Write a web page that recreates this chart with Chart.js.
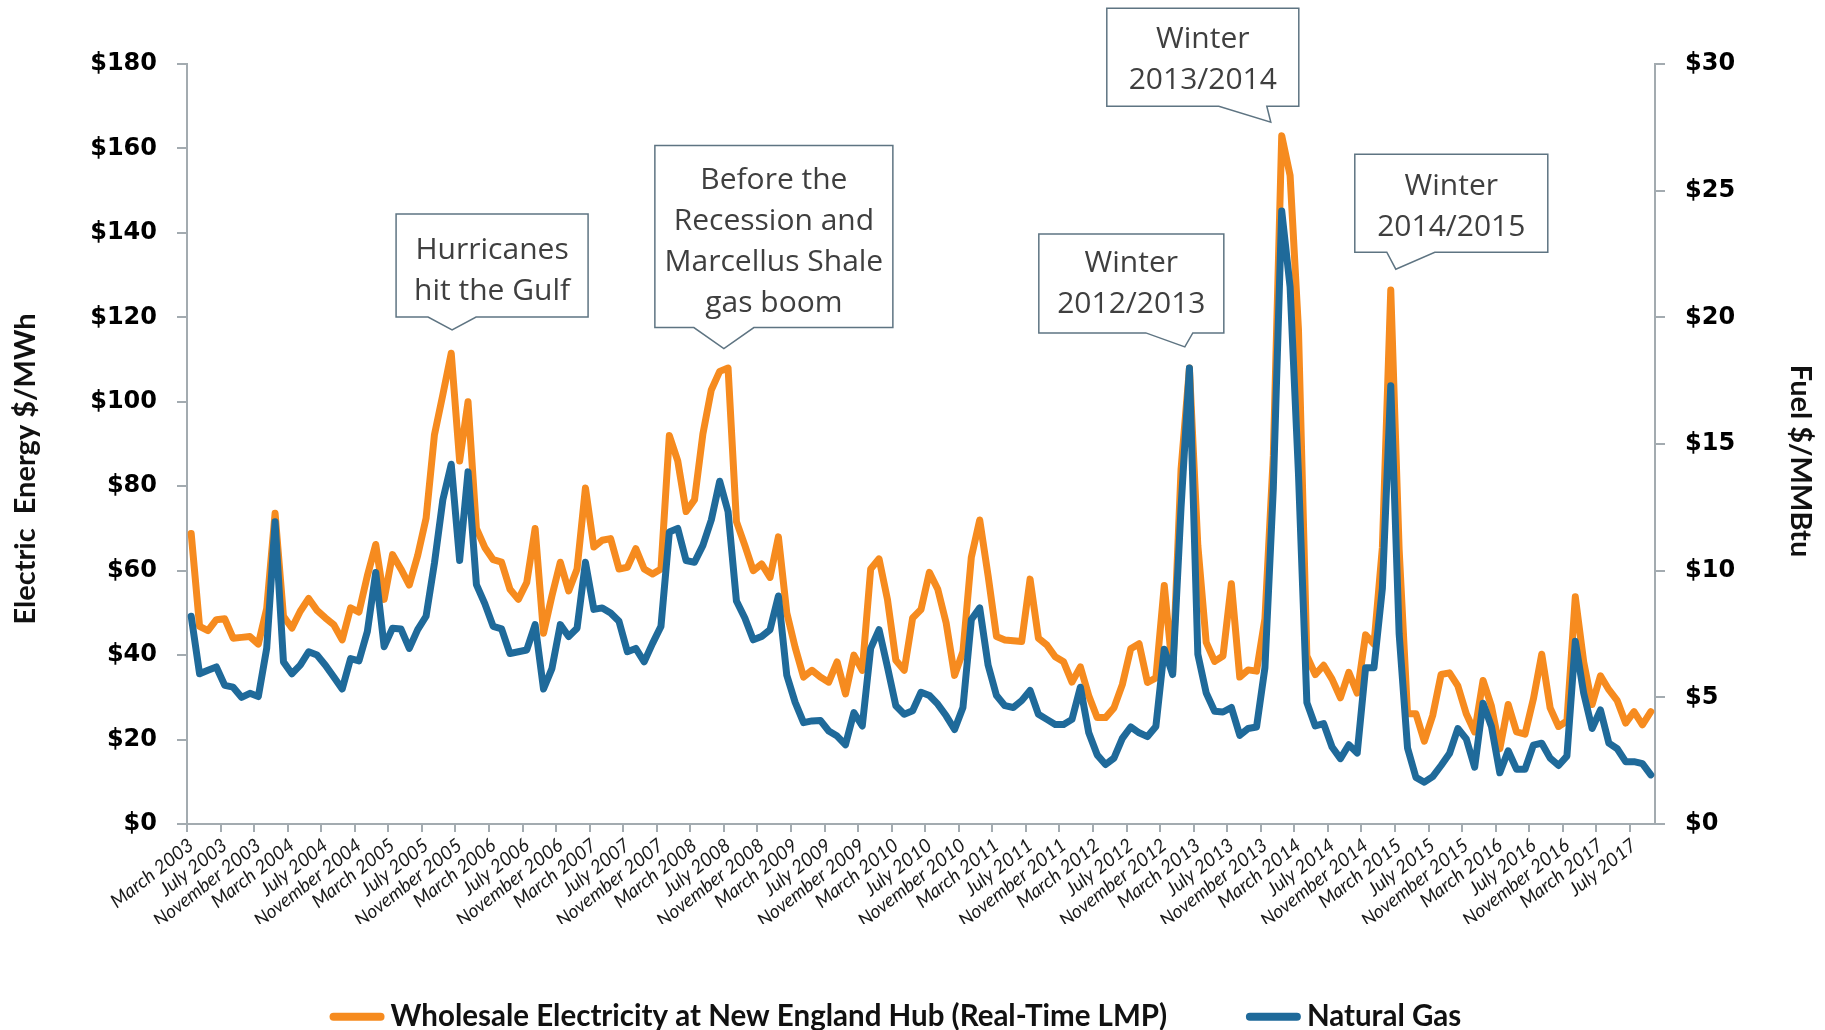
<!DOCTYPE html>
<html>
<head>
<meta charset="utf-8">
<title>New England wholesale electricity and natural gas prices</title>
<script src="https://cdn.jsdelivr.net/npm/chart.js@4.4.1/dist/chart.umd.min.js"></script>
<style>
  html, body { margin: 0; padding: 0; background: #ffffff; }
  #wrap { width: 1825px; height: 1030px; }
</style>
</head>
<body>
<div id="wrap"><canvas id="chart" width="1825" height="1030"></canvas></div>
<script>
// ---- categories: one per month, March 2003 .. September 2017 ----
const MONTH_NAMES = ['January', 'February', 'March', 'April', 'May', 'June', 'July',
  'August', 'September', 'October', 'November', 'December'];
const FIRST_YEAR = 2003;
const FIRST_MONTH = 2;      // March
const MONTH_COUNT = 175;
const months = [];
for (let k = 0; k < MONTH_COUNT; k++) {
  const m = FIRST_MONTH + k;
  months.push(MONTH_NAMES[m % 12] + ' ' + (FIRST_YEAR + Math.floor(m / 12)));
}
const LABEL_EVERY = 4;      // a tick label every fourth month

// ---- wholesale electricity, New England Hub real-time LMP ($/MWh) ----
const elecPrice = [
  /* 2003 */ 68.8, 46.8, 45.8, 48.4, 48.6, 44.0, 44.2, 44.4, 42.6, 51.0,
  /* 2004 */ 73.6, 49.2, 46.4, 50.4, 53.4, 50.6, 48.8, 47.2, 43.6, 51.2, 50.2, 58.8,
  /* 2005 */ 66.2, 53.2, 63.8, 60.4, 56.6, 63.6, 72.4, 92.2, 101.7, 111.5, 86.0, 100.0,
  /* 2006 */ 70.0, 65.5, 62.6, 62.0, 55.6, 53.2, 57.2, 70.0, 45.2, 54.0, 62.0, 55.2,
  /* 2007 */ 60.4, 79.6, 65.6, 67.2, 67.6, 60.4, 60.8, 65.2, 60.4, 59.2, 60.4, 92.0,
  /* 2008 */ 86.0, 74.0, 76.8, 92.4, 102.8, 107.2, 108.0, 71.6, 66.0, 60.0, 61.6, 58.4,
  /* 2009 */ 68.0, 50.0, 41.8, 34.8, 36.4, 34.8, 33.6, 38.4, 30.8, 40.0, 36.4, 60.4,
  /* 2010 */ 62.8, 53.2, 38.8, 36.4, 48.8, 50.8, 59.6, 55.6, 47.6, 35.2, 40.8, 63.2,
  /* 2011 */ 72.0, 58.8, 44.4, 43.6, 43.4, 43.2, 58.0, 44.0, 42.4, 39.6, 38.4, 33.6,
  /* 2012 */ 37.2, 30.4, 25.2, 25.2, 27.5, 33.0, 41.5, 42.7, 33.5, 34.6, 56.5, 36.0,
  /* 2013 */ 84.0, 108.0, 66.0, 43.0, 38.5, 39.8, 56.9, 34.8, 36.5, 36.2, 48.6, 87.3,
  /* 2014 */ 163.0, 153.6, 117.0, 39.8, 35.4, 37.6, 34.3, 29.9, 35.9, 31.0, 44.8, 42.6,
  /* 2015 */ 65.5, 126.5, 65.0, 26.1, 26.1, 19.6, 25.7, 35.4, 35.8, 32.7, 26.1, 21.8,
  /* 2016 */ 34.0, 27.9, 17.8, 28.3, 21.8, 21.3, 29.6, 40.2, 27.5, 23.1, 24.4, 53.8,
  /* 2017 */ 38.4, 28.3, 35.1, 31.8, 29.2, 23.9, 26.6, 23.5, 26.6
];

// ---- natural gas ($/MMBtu) ----
const gasPrice = [
  /* 2003 */ 8.2, 5.93, 6.07, 6.2, 5.47, 5.4, 5.0, 5.16, 5.03, 6.93,
  /* 2004 */ 11.93, 6.4, 5.93, 6.27, 6.8, 6.67, 6.27, 5.8, 5.33, 6.53, 6.44, 7.6,
  /* 2005 */ 9.93, 7.0, 7.73, 7.7, 6.93, 7.67, 8.2, 10.3, 12.8, 14.2, 10.4, 13.9,
  /* 2006 */ 9.45, 8.7, 7.8, 7.7, 6.73, 6.8, 6.87, 7.87, 5.33, 6.13, 7.87, 7.4,
  /* 2007 */ 7.73, 10.33, 8.47, 8.53, 8.33, 8.0, 6.8, 6.93, 6.4, 7.13, 7.8, 11.53,
  /* 2008 */ 11.67, 10.4, 10.33, 11.0, 12.0, 13.53, 12.33, 8.8, 8.13, 7.27, 7.4, 7.67,
  /* 2009 */ 9.0, 5.87, 4.8, 4.0, 4.07, 4.09, 3.67, 3.47, 3.13, 4.4, 3.87, 6.93,
  /* 2010 */ 7.67, 6.2, 4.67, 4.33, 4.47, 5.2, 5.07, 4.73, 4.27, 3.73, 4.6, 8.07,
  /* 2011 */ 8.53, 6.27, 5.07, 4.67, 4.6, 4.87, 5.27, 4.33, 4.13, 3.93, 3.93, 4.13,
  /* 2012 */ 5.4, 3.6, 2.73, 2.35, 2.6, 3.38, 3.83, 3.6, 3.45, 3.85, 6.9, 5.9,
  /* 2013 */ 12.5, 18.0, 6.7, 5.17, 4.45, 4.42, 4.6, 3.5, 3.77, 3.83, 6.17, 13.26,
  /* 2014 */ 24.2, 21.2, 13.8, 4.79, 3.87, 3.96, 3.04, 2.58, 3.13, 2.8, 6.17, 6.17,
  /* 2015 */ 9.3, 17.3, 7.5, 3.0, 1.84, 1.65, 1.87, 2.31, 2.78, 3.77, 3.36, 2.24,
  /* 2016 */ 4.77, 3.85, 2.02, 2.89, 2.16, 2.16, 3.11, 3.19, 2.6, 2.31, 2.68, 7.21,
  /* 2017 */ 5.16, 3.77, 4.5, 3.19, 2.97, 2.46, 2.46, 2.38, 1.94
];

// ---- axis ranges and tick steps ----
const elecAxis = { min: 0, max: 180, step: 20 };
const gasAxis = { min: 0, max: 30, step: 5 };

// ---- callout notes: text lines, pointer tip (month position, $/MWh) ----
const calloutText = [
  ['Hurricanes', 'hit the Gulf'],
  ['Before the', 'Recession and', 'Marcellus Shale', 'gas boom'],
  ['Winter', '2012/2013'],
  ['Winter', '2013/2014'],
  ['Winter', '2014/2015']
];
const calloutMonth = [31.1, 63.5, 118.45, 128.7, 143.6];
const calloutValue = [117, 112.6, 113, 166.2, 131.4];

const ORANGE = '#F68B1F';
const BLUE = '#1F6A9A';
const AXIS_GREY = '#A3ABB0';

// Box outline of each callout relative to its pointer tip:
// [left, right, top, bottom, notch left, notch right, text shift]
const calloutBoxes = [
  [-56, 136, -116, -13, -24, 24, 3],
  [-69, 169, -203, -21, -30, 30, 3],
  [-146, 39, -113, -14, -39, 8, -1],
  [-164, 28, -114, -16, -52, -4, 1],
  [-41, 152, -115, -17, -9, 39, 2]
];

const calloutPlugin = {
  id: 'callouts',
  afterDatasetsDraw(chart) {
    const ctx = chart.ctx;
    const xs = chart.scales.x;
    const ys = chart.scales.y;
    calloutText.forEach((lines, k) => {
      const tx = xs.getPixelForValue(calloutMonth[k]);
      const ty = ys.getPixelForValue(calloutValue[k]);
      const g = calloutBoxes[k];
      const L = tx + g[0], R = tx + g[1], T = ty + g[2], B = ty + g[3];
      ctx.save();
      ctx.beginPath();
      ctx.moveTo(L, T);
      ctx.lineTo(R, T);
      ctx.lineTo(R, B);
      ctx.lineTo(tx + g[5], B);
      ctx.lineTo(tx, ty);
      ctx.lineTo(tx + g[4], B);
      ctx.lineTo(L, B);
      ctx.closePath();
      ctx.fillStyle = '#ffffff';
      ctx.fill();
      ctx.lineWidth = 1.5;
      ctx.strokeStyle = '#5E7482';
      ctx.lineJoin = 'miter';
      ctx.stroke();
      ctx.fillStyle = '#3F3F3F';
      ctx.font = '30px "Open Sans"';
      ctx.textAlign = 'center';
      ctx.textBaseline = 'middle';
      const lh = 41;
      const cy = (T + B) / 2 + 2 + g[6] - (lines.length - 1) * lh / 2;
      lines.forEach((s, j) => ctx.fillText(s, (L + R) / 2, cy + j * lh));
      ctx.restore();
    });
  }
};

// Rotated axis titles on both sides
const axisTitlePlugin = {
  id: 'axisTitles',
  afterDraw(chart) {
    const ctx = chart.ctx;
    const area = chart.chartArea;
    ctx.save();
    ctx.fillStyle = '#111111';
    ctx.font = 'bold 29px Lato';
    ctx.textAlign = 'center';
    ctx.textBaseline = 'middle';
    ctx.translate(area.left - 161, (area.top + area.bottom) / 2 + 25);
    ctx.rotate(-Math.PI / 2);
    ctx.fillText('Electric  Energy $/MWh', 0, 0);
    ctx.restore();
    ctx.save();
    ctx.fillStyle = '#111111';
    ctx.font = 'bold 29px Lato';
    ctx.textAlign = 'center';
    ctx.textBaseline = 'middle';
    ctx.translate(area.right + 145, (area.top + area.bottom) / 2 + 17);
    ctx.rotate(Math.PI / 2);
    ctx.fillText('Fuel $/MMBtu', 0, 0);
    ctx.restore();
  }
};

// Fixed height for the legend strip under the month labels,
// and rounded line markers drawn just ahead of each legend text
const LEGEND_FONT = 29.5;
const LEGEND_BOX = 47;
const legendStrip = {
  id: 'legendStrip',
  beforeInit(chart) {
    const fit = chart.legend.fit;
    chart.legend.fit = function () {
      fit.call(this);
      this.height = 106;
    };
  },
  afterDraw(chart) {
    const lg = chart.legend;
    if (!lg || !lg.legendHitBoxes) return;
    const ctx = chart.ctx;
    lg.legendItems.forEach((item, i) => {
      const hb = lg.legendHitBoxes[i];
      const textX = hb.left + LEGEND_BOX + LEGEND_FONT / 2;
      const x0 = textX - 61, x1 = textX - 6, h = 8;
      const cy = hb.top + hb.height / 2;
      ctx.save();
      ctx.fillStyle = item.markerColor;
      ctx.beginPath();
      ctx.moveTo(x0 + h / 2, cy - h / 2);
      ctx.lineTo(x1 - h / 2, cy - h / 2);
      ctx.arc(x1 - h / 2, cy, h / 2, -Math.PI / 2, Math.PI / 2);
      ctx.lineTo(x0 + h / 2, cy + h / 2);
      ctx.arc(x0 + h / 2, cy, h / 2, Math.PI / 2, Math.PI * 1.5);
      ctx.closePath();
      ctx.fill();
      ctx.restore();
    });
  }
};

const tickFont = { family: 'DejaVu Sans', weight: 'bold', size: 24 };

new Chart(document.getElementById('chart'), {
  type: 'line',
  data: {
    labels: months,
    datasets: [
      {
        label: 'Wholesale Electricity at New England Hub (Real-Time LMP)',
        data: elecPrice,
        yAxisID: 'y',
        borderColor: ORANGE,
        backgroundColor: ORANGE,
        borderWidth: 7,
        pointRadius: 0,
        borderJoinStyle: 'round',
        borderCapStyle: 'round',
        tension: 0,
        order: 1
      },
      {
        label: 'Natural Gas',
        data: gasPrice,
        yAxisID: 'y1',
        borderColor: BLUE,
        backgroundColor: BLUE,
        borderWidth: 7,
        pointRadius: 0,
        borderJoinStyle: 'round',
        borderCapStyle: 'round',
        tension: 0,
        order: 0
      }
    ]
  },
  options: {
    responsive: false,
    animation: false,
    devicePixelRatio: 1,
    layout: { padding: { top: 64, right: 35, bottom: 0, left: 0 } },
    plugins: {
      tooltip: { enabled: false },
      legend: {
        position: 'bottom',
        labels: {
          boxWidth: LEGEND_BOX,
          boxHeight: 8,
          padding: 78,
          color: '#111111',
          font: { family: 'Lato', weight: 'bold', size: LEGEND_FONT },
          sort: (a, b) => a.datasetIndex - b.datasetIndex,
          generateLabels(chart) {
            const items = Chart.defaults.plugins.legend.labels.generateLabels(chart);
            items.forEach(it => {
              it.markerColor = it.strokeStyle;
              it.fillStyle = 'rgba(0,0,0,0)';
              it.strokeStyle = 'rgba(0,0,0,0)';
              it.lineWidth = 0;
            });
            return items;
          }
        }
      }
    },
    scales: {
      x: {
        type: 'category',
        offset: true,
        grid: {
          display: true,
          drawOnChartArea: false,
          drawTicks: true,
          tickLength: 8,
          offset: true,
          lineWidth: 2,
          color: c => (c.index % LABEL_EVERY === 0 ? AXIS_GREY : 'rgba(0,0,0,0)')
        },
        border: { display: true, color: AXIS_GREY, width: 2 },
        ticks: {
          autoSkip: false,
          maxRotation: 38,
          minRotation: 38,
          padding: 2,
          color: '#1A1A1A',
          font: { family: 'Lato', style: 'italic', size: 19 },
          callback(value, index) {
            return index % LABEL_EVERY === 0 ? this.getLabelForValue(value) : '';
          }
        },
        afterFit(scale) { scale.height = 100; }
      },
      y: {
        position: 'left',
        min: elecAxis.min,
        max: elecAxis.max,
        grid: { drawOnChartArea: false, drawTicks: true, tickLength: 10, color: AXIS_GREY, lineWidth: 2 },
        border: { display: true, color: AXIS_GREY, width: 2 },
        ticks: {
          stepSize: elecAxis.step,
          padding: 20,
          color: '#000000',
          font: tickFont,
          callback: v => '$' + v
        },
        afterFit(scale) { scale.width = 187; }
      },
      y1: {
        position: 'right',
        min: gasAxis.min,
        max: gasAxis.max,
        grid: { drawOnChartArea: false, drawTicks: true, tickLength: 10, color: AXIS_GREY, lineWidth: 2 },
        border: { display: true, color: AXIS_GREY, width: 2 },
        ticks: {
          stepSize: gasAxis.step,
          padding: 20,
          color: '#000000',
          font: tickFont,
          callback: v => '$' + v
        },
        afterFit(scale) { scale.width = 135; }
      }
    }
  },
  plugins: [legendStrip, calloutPlugin, axisTitlePlugin]
});
</script>
</body>
</html>
